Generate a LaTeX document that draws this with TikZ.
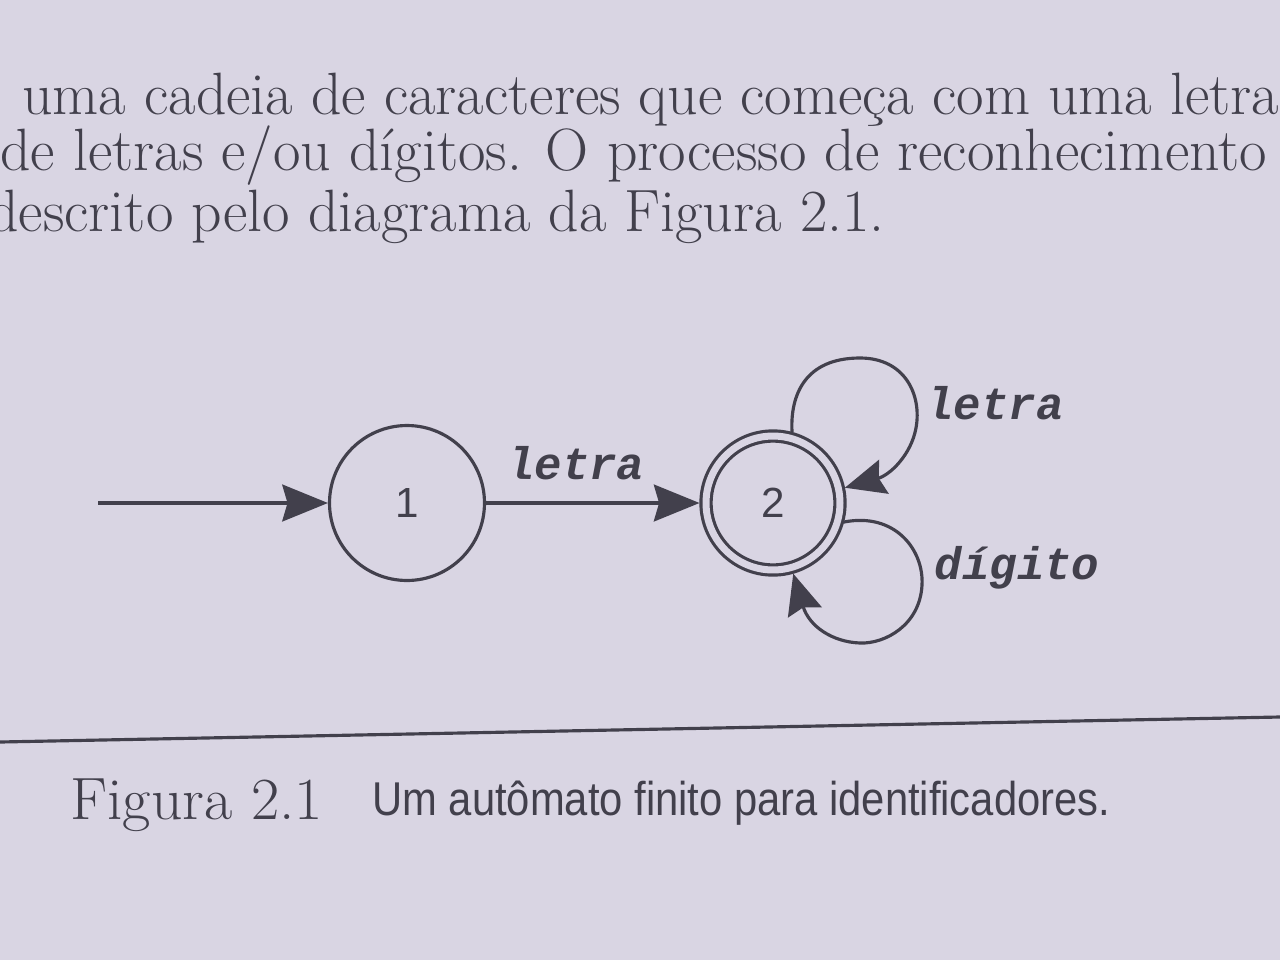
\documentclass[tikz,border=0pt]{standalone}
\usepackage{fontspec}
\setsansfont{Liberation Sans}
\setmonofont{Liberation Mono}
\usetikzlibrary{arrows.meta,positioning}
\definecolor{paper}{RGB}{217,213,227}
\definecolor{ink}{RGB}{66,64,76}

\begin{document}
\begin{tikzpicture}[x=0.02cm, y=-0.02cm,
  state/.style={circle, draw=ink, line width=1.8pt, minimum size=3.1cm, inner sep=0pt, text=ink, font=\sffamily\fontsize{24}{26}\selectfont},
  accept/.style={state, double=paper, double distance=0.14cm, minimum size=2.68cm, outer sep=0.13cm},
  arr/.style={draw=ink, line width=1.8pt, -{Stealth[length=26pt, width=21pt, inset=3pt]}},
  looparr/.style={arr, -{Stealth[length=23pt, width=20pt, inset=3pt]}},
  lbl/.style={inner sep=0pt, text=ink, font=\ttfamily\bfseries\itshape\fontsize{26}{28}\selectfont},
  body/.style={anchor=base west, inner sep=0pt, text=ink, transform shape, xscale=1.0, font=\fontsize{34}{40}\selectfont},
  capsans/.style={anchor=base west, inner sep=0pt, text=ink, transform shape, xscale=0.88, font=\sffamily\fontsize{27}{30}\selectfont}]
  \clip (0,0) rectangle (1280,960);
  \fill[paper] (0,0) rectangle (1280,960);

  % text of the page
  \node[body] (line1) at (22,114) {uma cadeia de caracteres que começa com uma letra};
  \node[body] (line2) at (0,170) {de letras e/ou dígitos. O processo de reconhecimento};
  \node[body] (line3) at (-12,231) {descrito pelo diagrama da Figura 2.1.};

  % automaton
  \coordinate (start) at (98,503);
  \node[state] (s1) at (407,503) {1};
  \node[accept] (s2) at (773,503) {2};
  \draw[arr] (start) -- (s1);
  \draw[arr] (s1) -- node[lbl, pos=0.42, above=0.42cm] (l12) {letra} (s2);
  \draw[looparr] (s2.75) .. controls (790,395) and (805,358) .. (860,358)
    .. controls (905,358) and (922,395) .. (916,428)
    .. controls (911,455) and (890,475) .. (s2.12);
  \draw[looparr] (s2.-15) .. controls (895,512) and (924,550) .. (922,585)
    .. controls (920,625) and (885,644) .. (860,643)
    .. controls (832,642) and (809,626) .. (s2.-74);
  \node[lbl] (l22a) at (995,403) {letra};
  \node[lbl] (l22b) at (1017,568) {dígito};

  % rule and caption
  \draw[ink, line width=1.8pt] (0,742) -- (1280,717);
  \node[body, xscale=1.03] (capnum) at (70,819) {Figura 2.1};
  \node[capsans] (captext) at (372,815) {Um autômato finito para identificadores.};
\end{tikzpicture}
\end{document}
